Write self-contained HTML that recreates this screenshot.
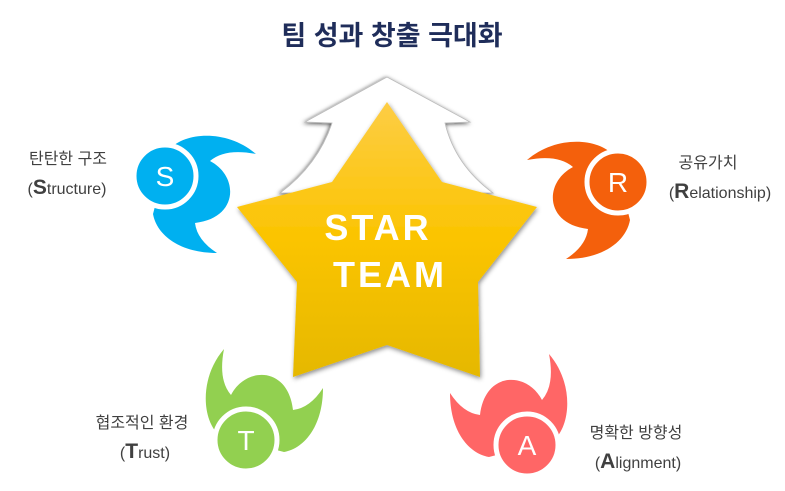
<!DOCTYPE html>
<html><head><meta charset="utf-8"><style>
body{margin:0;background:#fff;}
svg{display:block}
</style></head><body>
<svg width="785" height="491" viewBox="0 0 785 491" xmlns="http://www.w3.org/2000/svg">
<defs>
<linearGradient id="g" x1="0" y1="0" x2="0" y2="1">
<stop offset="0" stop-color="#fdcd45"/><stop offset="0.5" stop-color="#fbc400"/><stop offset="1" stop-color="#e5b800"/>
</linearGradient>
<filter id="sh" x="-20%" y="-20%" width="140%" height="140%"><feDropShadow dx="1" dy="2" stdDeviation="2.5" flood-color="#000" flood-opacity="0.45"/></filter>
<filter id="sh2" x="-20%" y="-20%" width="140%" height="140%"><feDropShadow dx="-1" dy="1" stdDeviation="2" flood-color="#000" flood-opacity="0.7"/></filter>
<g id="sw">
<path d="M5 -27 C20 -44 62 -47 91 -22 Q60 -28 45 -15 C74 0 74 42 30 47 Q32 64 52 77 C16 77 -8 60 -12 38 Z"/>
<circle cx="0" cy="0" r="31" stroke="#fff" stroke-width="5"/>
</g>
</defs>
<text x="392" y="45" text-anchor="middle" font-family="Liberation Sans, Noto Sans CJK KR, sans-serif" font-weight="bold" font-size="27" fill="#1f2d5a">팀 성과 창출 극대화</text>
<path d="M387 77 L470 122 L445 123 Q455 165 493 193 L280 193 Q318 165 332 123 L305 122 Z" fill="#fff" stroke="#bbb" stroke-width="0.8" filter="url(#sh2)"/>
<path d="M387 102 L442 182 L537 207 L478 282 L480 377 L387 345 L293 377 L297 282 L237 207 L332 182 Z" fill="url(#g)" filter="url(#sh)"/>
<g font-family="Liberation Sans, sans-serif" font-size="36" fill="#fff" text-anchor="middle" font-weight="bold">
<text x="378" y="240" letter-spacing="3">STAR</text>
<text x="390" y="287" letter-spacing="3">TEAM</text>
</g>
<g fill="#00b0f0" transform="translate(165,176)"><use href="#sw"/></g>
<g fill="#f4600c" transform="translate(618,182) scale(-1,1)"><use href="#sw"/></g>
<g fill="#92d050" transform="translate(246,440) rotate(-90)"><use href="#sw"/></g>
<g fill="#ff6666" transform="translate(527,445) scale(-1,1) rotate(-90)"><use href="#sw"/></g>
<g font-family="Liberation Sans, sans-serif" font-size="28" fill="#fff" text-anchor="middle">
<text x="165" y="186">S</text><text x="618" y="192">R</text><text x="246" y="450">T</text><text x="527" y="455">A</text>
</g>
<g font-family="Liberation Sans, Noto Sans CJK KR, sans-serif" font-size="16" fill="#404040" text-anchor="middle">
<text x="68" y="164">탄탄한 구조</text>
<text x="67" y="194">(<tspan font-size="21" font-weight="bold">S</tspan>tructure)</text>
<text x="708" y="168">공유가치</text>
<text x="720" y="198">(<tspan font-size="21" font-weight="bold">R</tspan>elationship)</text>
<text x="142" y="428">협조적인 환경</text>
<text x="145" y="458">(<tspan font-size="21" font-weight="bold">T</tspan>rust)</text>
<text x="636" y="438">명확한 방향성</text>
<text x="638" y="468">(<tspan font-size="21" font-weight="bold">A</tspan>lignment)</text>
</g>
</svg>
</body></html>
